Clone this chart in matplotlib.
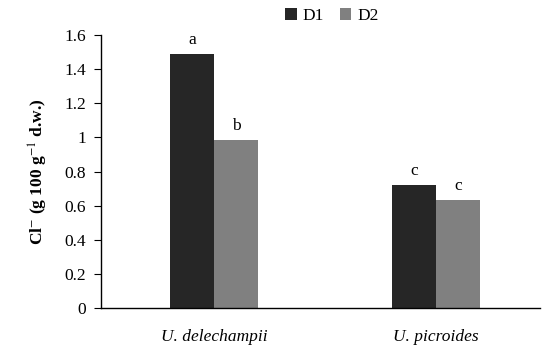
import numpy as np
import matplotlib
matplotlib.use('Agg')
from matplotlib import pyplot as plt

species = ['U. delechampii', 'U. picroides']
d1 = [1.49, 0.72]
d2 = [0.985, 0.635]
d1_letters = ['a', 'c']
d2_letters = ['b', 'c']
yticks = [0, 0.2, 0.4, 0.6, 0.8, 1, 1.2, 1.4, 1.6]

plt.rcParams['font.family'] = 'Liberation Serif'
plt.rcParams['mathtext.fontset'] = 'stix'

fig = plt.figure(figsize=(5.5, 3.52), dpi=100)
ax = fig.add_axes([101 / 550, 1 - 308 / 352, 439 / 550, 273 / 352])

x = np.arange(len(species))
w = 0.198
b1 = ax.bar(x - w / 2, d1, w, color='#262626', label='D1')
b2 = ax.bar(x + w / 2, d2, w, color='#808080', label='D2')

for xi, v, t in zip(x - w / 2, d1, d1_letters):
    ax.text(xi, v + 0.035, t, ha='center', va='bottom', fontsize=12.5)
for xi, v, t in zip(x + w / 2, d2, d2_letters):
    ax.text(xi, v + 0.035, t, ha='center', va='bottom', fontsize=12.5)

ax.set_xlim(-0.509, 1.468)
ax.set_ylim(0, 1.6)
ax.set_yticks(yticks)
ax.set_yticklabels([f'{t:g}' for t in yticks], fontsize=12.5)
ax.set_xticks(x)
ax.set_xticklabels(species, fontsize=12.5, style='italic')
ax.tick_params(axis='x', length=0, pad=15)
ax.tick_params(axis='y', length=5, direction='out', pad=6)
for s in ['top', 'right']:
    ax.spines[s].set_visible(False)
ax.spines['left'].set_linewidth(1)
ax.spines['bottom'].set_linewidth(1)

ax.set_ylabel('Cl$^{-}$ (g 100 g$^{-1}$ d.w.)', fontsize=12.5, fontweight='bold', labelpad=10)

fig.legend(handles=[b1, b2], loc='center', bbox_to_anchor=(332 / 550, 1 - 16 / 352),
           ncol=2, frameon=False, fontsize=12.5, handlelength=0.65, handleheight=0.65,
           handletextpad=0.35, columnspacing=0.9)

fig.savefig('out.png', dpi=100)
